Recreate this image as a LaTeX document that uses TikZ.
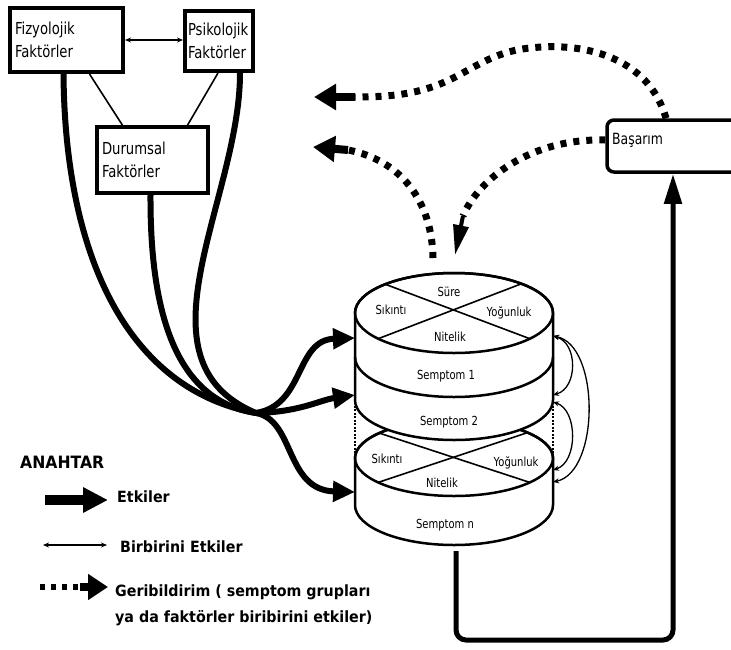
\documentclass[tikz,border=0pt]{standalone}
\usepackage{fontspec}
\setmainfont{DejaVu Sans}
\newfontfamily\boxfont[FakeStretch=0.8]{DejaVu Sans}
\newfontfamily\legfont[FakeStretch=0.92]{DejaVu Sans}
\usetikzlibrary{arrows.meta}
\begin{document}
\begin{tikzpicture}[x=1pt,y=-1pt,
  fbox/.style={draw, line width=4pt, align=left, inner xsep=5pt, inner ysep=0pt, font=\boxfont\fontsize{16.5}{23}\selectfont},
  thinline/.style={line width=1.6pt},
  twoway/.style={line width=1.3pt, {Stealth[length=6pt,width=5pt]}-{Stealth[length=6pt,width=5pt]}},
  etki/.style={line width=6pt, line cap=round, -{Triangle[length=22pt,width=20pt]}},
  strand/.style={line width=6pt, line cap=round},
  feed/.style={line width=7pt, dash pattern=on 6pt off 7pt},
  feedhead/.style={line width=8pt, -{Triangle[length=22pt,width=25pt]}},
  disk/.style={line width=2.5pt},
  dtext/.style={font=\boxfont\fontsize{12.5}{14}\selectfont, inner sep=0pt},
  legtext/.style={font=\legfont\bfseries\fontsize{15.5}{17}\selectfont, anchor=base west, inner sep=0pt}
]
\useasboundingbox (0,0) rectangle (731,649);
\clip (0,0) rectangle (731,649);

% ---------- factor boxes ----------
\node[fbox, minimum width=113pt, minimum height=64pt, text width=103pt] (fiz) at (66.5,40) {Fizyolojik\\Faktörler};
\node[fbox, minimum width=68pt, minimum height=60pt, text width=62pt, inner xsep=3pt] (psi) at (219,41) {Psikolojik\\Faktörler};
\node[fbox, line width=3.5pt, minimum width=111pt, minimum height=66pt, text width=101pt] (dur) at (152.5,160) {Durumsal\\Faktörler};
\node[draw, line width=3.5pt, rounded corners=7pt, minimum width=140pt, minimum height=52pt] (bas) at (677,146) {};
\node[anchor=west, inner sep=0pt, font=\boxfont\fontsize{15.5}{18}\selectfont] (basl) at (612,140) {Başarım};

\draw[twoway] (fiz.east) -- (fiz.east -| psi.west);
\draw[thinline] ([xshift=23pt]fiz.south) -- ([xshift=-30pt]dur.north);
\draw[thinline] ([xshift=-1pt]psi.south) -- ([xshift=35pt]dur.north);

% ---------- lower stack ----------
\filldraw[disk, fill=white] (355,458) -- (355,505) arc[start angle=180, end angle=0, x radius=99, y radius=40] -- (553,458) arc[start angle=0, end angle=-180, x radius=99, y radius=38] -- cycle;
\draw[disk] (454,458) ellipse[x radius=99, y radius=38];
\draw[line width=1.6pt, shift={(454,458)}] (221:99 and 38) -- (40:99 and 38);
\draw[line width=1.6pt, shift={(454,458)}] (140:99 and 38) -- (318:99 and 38);
\node[dtext] (s2) at (387,459) {Sıkıntı};
\node[dtext] (y2) at (516,463) {Yoğunluk};
\node[dtext] (n2) at (442,483) {Nitelik};
\node[dtext] (sn) at (445,525) {Semptom n};

\draw[line width=1.3pt, dash pattern=on 2pt off 1.5pt] (355,402) -- (355,456);
\draw[line width=1.3pt, dash pattern=on 2pt off 1.5pt] (553,402) -- (553,456);

% ---------- upper stack ----------
\filldraw[disk, fill=white] (355,313) -- (355,400) arc[start angle=180, end angle=0, x radius=99, y radius=40] -- (553,313) arc[start angle=0, end angle=-180, x radius=99, y radius=40] -- cycle;
\draw[disk] (355,357) arc[start angle=180, end angle=0, x radius=99, y radius=40];
\draw[disk] (454,313) ellipse[x radius=99, y radius=40];
\draw[line width=1.6pt, shift={(454,313)}] (226:99 and 40) -- (40:99 and 40);
\draw[line width=1.6pt, shift={(454,313)}] (140:99 and 40) -- (313:99 and 40);
\node[dtext] (su) at (449,292) {Süre};
\node[dtext] (s1) at (391,310) {Sıkıntı};
\node[dtext] (y1) at (509,313) {Yoğunluk};
\node[dtext] (n1) at (450,337) {Nitelik};
\node[dtext] (sp1) at (446,376) {Semptom 1};
\node[dtext] (sp2) at (449,422) {Semptom 2};

% ---------- influence strands ----------
\coordinate (hub) at (256,413);
\draw[strand] ([xshift=-3pt]fiz.south) .. controls (65,260) and (130,390) .. (hub);
\draw[strand] ([xshift=-2pt]dur.south) .. controls (150,300) and (170,400) .. (hub);
\draw[strand] ([xshift=21pt]psi.south) .. controls (240,200) and (130,360) .. (hub);
\coordinate (t1) at (355,338);
\coordinate (t2) at (355,395);
\coordinate (t3) at (355,492);
\draw[etki] (hub) .. controls (305,405) and (295,340) .. (t1);
\draw[etki] (hub) .. controls (300,412) and (320,400) .. (t2);
\draw[etki] (hub) .. controls (295,420) and (285,490) .. (t3);

% ---------- mutual arrows on the right ----------
\coordinate (r1) at (553,336);
\coordinate (r2) at (553,395);
\coordinate (r3) at (553,402);
\coordinate (r4) at (553,470);
\coordinate (r5) at (553,482);
\draw[twoway] (r1) .. controls (578,343) and (578,388) .. (r2);
\draw[twoway] (r3) .. controls (578,410) and (578,462) .. (r4);
\draw[twoway] (r1) .. controls (600,345) and (600,472) .. (r5);

% ---------- symptoms to performance ----------
\coordinate (dbot) at (456,551);
\draw[line width=5pt, rounded corners=10pt, -{Triangle[length=30pt,width=17pt]}] (dbot) -- ++(0,89) -| ([xshift=-4pt]bas.south);

% ---------- feedback ----------
\coordinate (f1e) at (355,97);
\coordinate (f1t) at (314,97);
\draw[feed] ([xshift=-11pt]bas.north) .. controls (648,55) and (580,42) .. (530,48) .. controls (490,52) and (470,72) .. (440,84) .. controls (415,94) and (390,97) .. (f1e);
\draw[feedhead] (f1e) -- (f1t);

\coordinate (f2e) at (463,216);
\coordinate (f2t) at (455,255);
\draw[feed] ([yshift=6pt]bas.west) .. controls (530,138) and (478,180) .. (f2e);
\draw[line width=4pt, -{Triangle[length=30pt,width=15pt]}] (f2e) -- (f2t);

\coordinate (f3s) at (433,258);
\coordinate (f3e) at (348,150);
\coordinate (f3t) at (313,147);
\draw[feed] (f3s) .. controls (432,200) and (400,160) .. (f3e);
\draw[feedhead] (f3e) -- (f3t);

% ---------- legend ----------
\node[legtext, font=\legfont\bfseries\fontsize{17}{19}\selectfont] (key) at (20,468) {ANAHTAR};
\coordinate (l1a) at (45,500);
\coordinate (l1b) at (108,500);
\draw[line width=10pt, -{Triangle[length=25pt,width=24pt]}] (l1a) -- (l1b);
\node[legtext] (k1) at (117,502) {Etkiler};
\coordinate (l2a) at (43,545);
\coordinate (l2b) at (107,545);
\draw[twoway] (l2a) -- (l2b);
\node[legtext] (k2) at (120,552) {Birbirini Etkiler};
\coordinate (l3a) at (40,587);
\coordinate (l3b) at (80,587);
\coordinate (l3c) at (108,587);
\draw[feed, line width=6pt, dash pattern=on 5pt off 6pt] (l3a) -- (l3b);
\draw[feedhead, -{Triangle[length=20pt,width=25pt]}] (l3b) -- (l3c);
\node[legtext] (k3) at (115,596) {Geribildirim ( semptom grupları};
\node[legtext] (k4) at (115,622) {ya da faktörler biribirini etkiler)};
\end{tikzpicture}
\end{document}
